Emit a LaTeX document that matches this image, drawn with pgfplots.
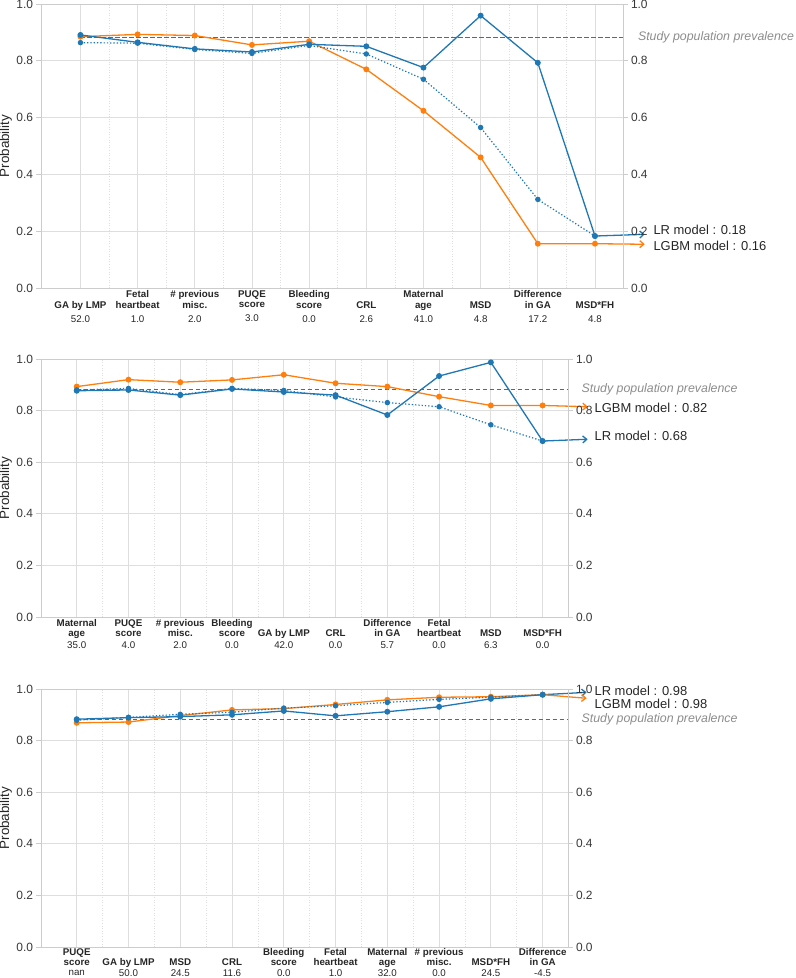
\documentclass[border=0pt]{standalone}
\usepackage{fontspec}
\setmainfont{Liberation Sans}
\usepackage{pgfplots}
\pgfplotsset{compat=1.18}
\usetikzlibrary{arrows.meta}
\definecolor{cblue}{HTML}{1F77B4}
\definecolor{corange}{HTML}{FF7F0E}
\definecolor{spine}{gray}{0.80}
\definecolor{gridc}{gray}{0.87}
\definecolor{txt}{HTML}{262626}
\definecolor{prev}{HTML}{8C8C8C}

\def\vg{3bp}
\newcommand{\one}[2]{\vphantom{Fl}\\\textbf{#1}\\[\vg]#2}
\newcommand{\two}[3]{\textbf{#1}\\\textbf{#2}\\[\vg]#3}

\pgfplotsset{
 common/.style={
  scale only axis, clip=false,
  xmin=-0.69, xmax=9.49, ymin=0, ymax=1,
  xtick={0,...,9},
  minor xtick={0.5,1.5,...,8.5},
  ytick={0,0.2,0.4,0.6,0.8,1.0},
  xmajorgrids, ymajorgrids, xminorgrids,
  major grid style={gridc, line width=0.9bp},
  minor grid style={gridc, line width=0.6bp, dotted},
  axis line style={spine, line width=1bp},
  xtick style={draw=none}, minor x tick style={draw=none},
  ytick pos=left,
  tick align=outside,
  major tick length=4.5bp,
  ytick style={spine, line width=0.9bp},
  /pgf/number format/assume math mode=true,
  y tick label style={font=\fontsize{12}{14}\selectfont, color=black!78},
  yticklabel style={/pgf/number format/fixed, /pgf/number format/fixed zerofill, /pgf/number format/precision=1},
  x tick label style={align=center, font=\fontsize{9.8}{11}\selectfont, color=txt, inner sep=0pt, anchor=north, yshift=2.5bp},
  ylabel={Probability},
  ylabel shift=1bp,
  ylabel style={font=\fontsize{13.5}{15}\selectfont, color=txt, inner sep=0pt},
 },
 rightax/.style={
  scale only axis, clip=false,
  xmin=-0.69, xmax=9.49, ymin=0, ymax=1,
  hide x axis, axis y line*=right,
  ytick={0,0.2,0.4,0.6,0.8,1.0},
  tick align=outside, major tick length=4.5bp,
  ytick style={spine, line width=0.9bp},
  axis line style={spine, line width=1bp},
  /pgf/number format/assume math mode=true,
  y tick label style={font=\fontsize{12}{14}\selectfont, color=black!78},
  yticklabel style={/pgf/number format/fixed, /pgf/number format/fixed zerofill, /pgf/number format/precision=1},
 },
 lgbm/.style={corange, line width=1.3bp, mark=*, mark size=2.3bp},
 lrdot/.style={cblue, line width=1.2bp, dash pattern=on 1.3bp off 2bp, mark=*, mark size=2.1bp, mark options={solid}},
 lr/.style={cblue, line width=1.3bp, mark=*, mark size=2.3bp},
 prevl/.style={black!60, line width=1bp, dash pattern=on 4.5bp off 2.5bp},
 arr/.style={line width=1.3bp, -{Straight Barb[length=4bp,width=7bp]}},
}
\newcommand{\annfont}{\fontsize{13}{15}\selectfont}
\newcommand{\prevfont}{\fontsize{12.4}{14}\selectfont\itshape}

\begin{document}
\begin{tikzpicture}
\useasboundingbox (0,0) rectangle (796bp,-978bp);

% ---------------- Panel 1 ----------------
\def\vg{3bp}
\begin{axis}[common, at={(41bp,-288bp)}, anchor=south west, width=582bp, height=284bp,
 xticklabels={{\one{GA by LMP}{52.0}},{\two{Fetal}{heartbeat}{1.0}},{\two{\# previous}{misc.}{2.0}},{\two{PUQE}{score}{3.0}},{\two{Bleeding}{score}{0.0}},{\one{CRL}{2.6}},{\two{Maternal}{age}{41.0}},{\one{MSD}{4.8}},{\two{Difference}{in GA}{17.2}},{\one{MSD*FH}{4.8}}}]
\addplot[prevl] coordinates {(0,0.883) (9.49,0.883)};
\addplot[lgbm] coordinates {(0,0.885) (1,0.893) (2,0.889) (3,0.856) (4,0.869) (5,0.770) (6,0.624) (7,0.460) (8,0.156) (9,0.156)};
\addplot[lrdot] coordinates {(0,0.864) (1,0.862) (2,0.840) (3,0.826) (4,0.854) (5,0.824) (6,0.735) (7,0.565) (8,0.312) (9,0.183)};
\addplot[lr] coordinates {(0,0.891) (1,0.865) (2,0.842) (3,0.831) (4,0.858) (5,0.851) (6,0.776) (7,0.959) (8,0.793) (9,0.183)};
\addplot[arr, cblue] coordinates {(9,0.183) (9.87,0.189)};
\addplot[arr, corange] coordinates {(9,0.156) (9.87,0.154)};
\node[anchor=west, inner sep=0pt, font=\annfont, color=txt] at (axis cs:10.02,0.204) {LR model : 0.18};
\node[anchor=west, inner sep=0pt, font=\annfont, color=txt] at (axis cs:10.02,0.150) {LGBM model : 0.16};
\node[anchor=west, inner sep=0pt, font=\prevfont, color=prev] at (axis cs:9.75,0.883) {Study population prevalence};
\end{axis}
\begin{axis}[rightax, at={(41bp,-288bp)}, anchor=south west, width=582bp, height=284bp]
\addplot[draw=none] coordinates {(0,0)};
\end{axis}

% ---------------- Panel 2 ----------------
\def\vg{2bp}
\begin{axis}[common, at={(41bp,-617bp)}, anchor=south west, width=527bp, height=258bp,
 x tick label style={font=\fontsize{9.8}{10.2}\selectfont},
 xticklabels={{\two{Maternal}{age}{35.0}},{\two{PUQE}{score}{4.0}},{\two{\# previous}{misc.}{2.0}},{\two{Bleeding}{score}{0.0}},{\one{GA by LMP}{42.0}},{\one{CRL}{0.0}},{\two{Difference}{in GA}{5.7}},{\two{Fetal}{heartbeat}{0.0}},{\one{MSD}{6.3}},{\one{MSD*FH}{0.0}}}]
\addplot[prevl] coordinates {(0,0.883) (9.49,0.883)};
\addplot[lgbm] coordinates {(0,0.893) (1,0.920) (2,0.910) (3,0.919) (4,0.939) (5,0.906) (6,0.893) (7,0.854) (8,0.820) (9,0.820)};
\addplot[lrdot] coordinates {(0,0.880) (1,0.886) (2,0.862) (3,0.886) (4,0.878) (5,0.853) (6,0.831) (7,0.815) (8,0.745) (9,0.682)};
\addplot[lr] coordinates {(0,0.877) (1,0.880) (2,0.860) (3,0.884) (4,0.872) (5,0.860) (6,0.783) (7,0.934) (8,0.987) (9,0.682)};
\addplot[arr, corange] coordinates {(9,0.820) (9.87,0.815)};
\addplot[arr, cblue] coordinates {(9,0.682) (9.87,0.689)};
\node[anchor=west, inner sep=0pt, font=\annfont, color=txt] at (axis cs:10.0,0.811) {LGBM model : 0.82};
\node[anchor=west, inner sep=0pt, font=\annfont, color=txt] at (axis cs:10.0,0.703) {LR model : 0.68};
\node[anchor=west, inner sep=0pt, font=\prevfont, color=prev] at (axis cs:9.75,0.883) {Study population prevalence};
\end{axis}
\begin{axis}[rightax, at={(41bp,-617bp)}, anchor=south west, width=527bp, height=258bp]
\addplot[draw=none] coordinates {(0,0)};
\end{axis}

% ---------------- Panel 3 ----------------
\def\vg{-0.2bp}
\begin{axis}[common, at={(41bp,-947bp)}, anchor=south west, width=527bp, height=258bp,
 x tick label style={font=\fontsize{9.8}{10.6}\selectfont, yshift=1bp},
 xticklabels={{\two{PUQE}{score}{nan}},{\one{GA by LMP}{50.0}},{\one{MSD}{24.5}},{\one{CRL}{11.6}},{\two{Bleeding}{score}{0.0}},{\two{Fetal}{heartbeat}{1.0}},{\two{Maternal}{age}{32.0}},{\two{\# previous}{misc.}{0.0}},{\one{MSD*FH}{24.5}},{\two{Difference}{in GA}{-4.5}}}]
\addplot[prevl] coordinates {(0,0.883) (9.49,0.883)};
\addplot[lgbm] coordinates {(0,0.869) (1,0.872) (2,0.897) (3,0.919) (4,0.924) (5,0.940) (6,0.958) (7,0.968) (8,0.970) (9,0.978)};
\addplot[lrdot] coordinates {(0,0.879) (1,0.890) (2,0.902) (3,0.910) (4,0.926) (5,0.935) (6,0.948) (7,0.960) (8,0.968) (9,0.978)};
\addplot[lr] coordinates {(0,0.883) (1,0.889) (2,0.893) (3,0.900) (4,0.915) (5,0.896) (6,0.912) (7,0.931) (8,0.962) (9,0.978)};
\addplot[arr, cblue] coordinates {(9,0.978) (9.85,0.987)};
\addplot[arr, corange] coordinates {(9,0.978) (9.85,0.964)};
\node[anchor=west, inner sep=0pt, font=\annfont, color=txt] at (axis cs:10.0,0.992) {LR model : 0.98};
\node[anchor=west, inner sep=0pt, font=\annfont, color=txt] at (axis cs:10.0,0.942) {LGBM model : 0.98};
\node[anchor=west, inner sep=0pt, font=\prevfont, color=prev] at (axis cs:9.75,0.883) {Study population prevalence};
\end{axis}
\begin{axis}[rightax, at={(41bp,-947bp)}, anchor=south west, width=527bp, height=258bp]
\addplot[draw=none] coordinates {(0,0)};
\end{axis}
\end{tikzpicture}
\end{document}
